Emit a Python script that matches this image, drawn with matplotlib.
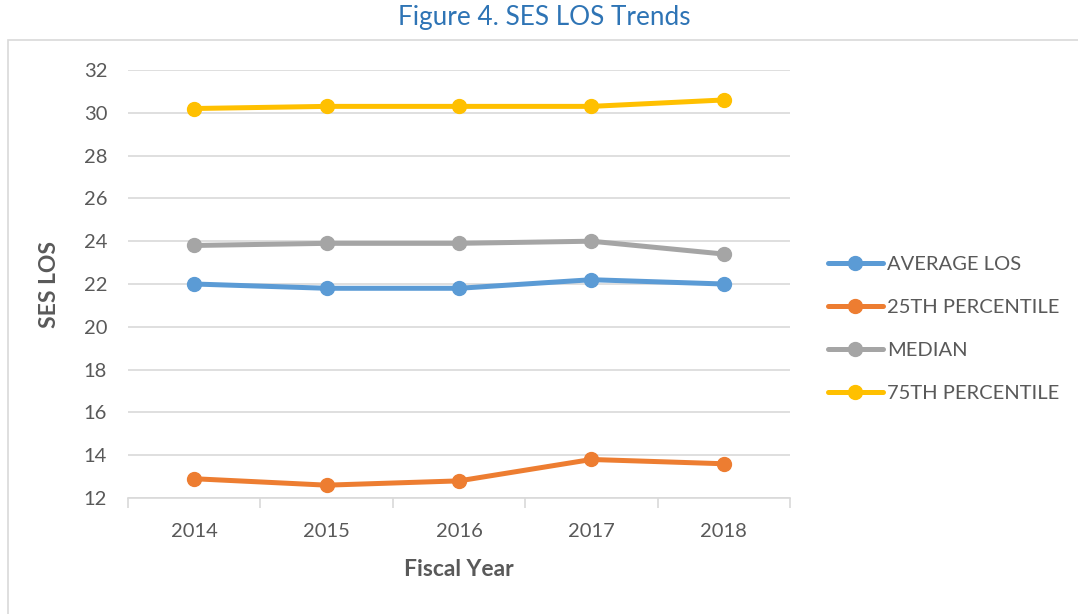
import matplotlib
matplotlib.use("Agg")
from matplotlib import pyplot as plt
from matplotlib.patches import Rectangle

years = ['2014', '2015', '2016', '2017', '2018']
average_los = [22.0, 21.8, 21.8, 22.2, 22.0]
pct_25 = [12.9, 12.6, 12.8, 13.8, 13.6]
median = [23.8, 23.9, 23.9, 24.0, 23.4]
pct_75 = [30.2, 30.3, 30.3, 30.3, 30.6]

series = [
    ('AVERAGE LOS', average_los, '#5B9BD5'),
    ('25TH PERCENTILE', pct_25, '#ED7D31'),
    ('MEDIAN', median, '#A5A5A5'),
    ('75TH PERCENTILE', pct_75, '#FFC000'),
]

plt.rcParams['font.family'] = ['Lato', 'DejaVu Sans']
text_col = '#595959'

fig = plt.figure(figsize=(10.78, 6.14), dpi=100)
# chart frame (runs off the right/bottom edge like in the source)
fig.patches.append(Rectangle((8 / 1078, -0.01), 1.1, 1 - 40 / 614 + 0.01,
                             transform=fig.transFigure, fill=False,
                             edgecolor='#D9D9D9', linewidth=1.2))
fig.text(544 / 1078, 1 - 18 / 614, 'Figure 4. SES LOS Trends', ha='center', va='center',
         fontsize=18.8, color='#2E74B5')

ax = fig.add_axes([128 / 1078, 1 - 498 / 614, 662 / 1078, 428 / 614])
x = list(range(len(years)))
for name, vals, col in series:
    ax.plot(x, vals, color=col, linewidth=3.6, marker='o', markersize=10,
            solid_capstyle='round', label=name)

ax.set_xlim(-0.5, len(years) - 0.5)
ax.set_ylim(12, 32)
ax.set_yticks(range(12, 33, 2))
ax.yaxis.grid(True, color='#D9D9D9', linewidth=1.2)
ax.set_axisbelow(True)
for s in ['top', 'right', 'left']:
    ax.spines[s].set_visible(False)
ax.spines['bottom'].set_color('#D9D9D9')
ax.spines['bottom'].set_linewidth(1.2)

ax.set_xticks([i - 0.5 for i in range(len(years) + 1)])
ax.set_xticklabels([])
ax.set_xticks(x, minor=True)
ax.set_xticklabels(years, minor=True)
ax.tick_params(axis='x', which='major', length=7, color='#D9D9D9', width=1.2)
ax.tick_params(axis='x', which='minor', length=0, pad=18, labelsize=14.5, labelcolor=text_col)
ax.tick_params(axis='y', length=0, pad=15, labelsize=14.5, labelcolor=text_col)

ax.set_xlabel('Fiscal Year', fontsize=16.5, fontweight='bold', color=text_col, labelpad=14)
ax.set_ylabel('SES LOS', fontsize=16.5, fontweight='bold', color=text_col, labelpad=17)

ax.legend(loc='center left', bbox_to_anchor=(1.057, 0.395), frameon=False, fontsize=14.5,
          labelcolor=text_col, handlelength=2.75, handletextpad=0.2, labelspacing=1.29,
          borderpad=0, borderaxespad=0)

fig.savefig('out.png', dpi=100)
